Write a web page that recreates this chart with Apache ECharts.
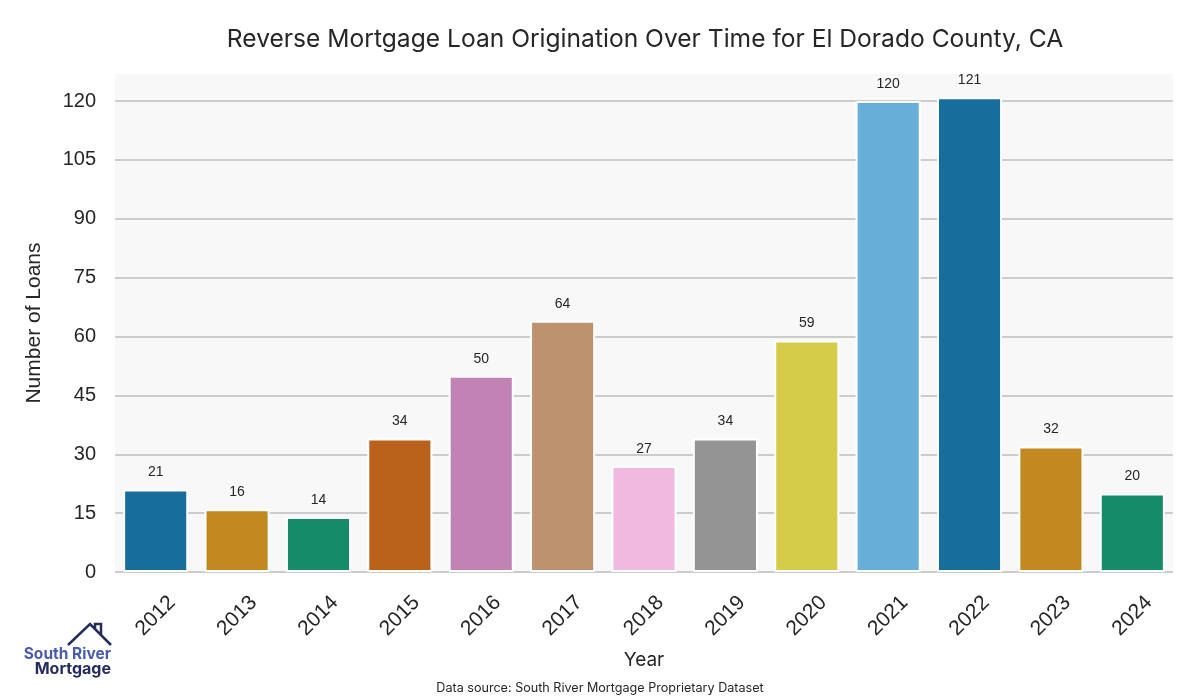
<!DOCTYPE html>
<html>
<head>
<meta charset="utf-8">
<script src="https://cdn.jsdelivr.net/npm/echarts@6/dist/echarts.min.js"></script>
<style>
  html, body { margin: 0; padding: 0; background: #ffffff; }
  #chart { width: 1200px; height: 700px; }
</style>
</head>
<body>
<div id="chart"></div>
<script>
// ---- data ----
const years = ['2012','2013','2014','2015','2016','2017','2018','2019','2020','2021','2022','2023','2024'];
const loans = [21, 16, 14, 34, 50, 64, 27, 34, 59, 120, 121, 32, 20];
const yTicks = [0, 15, 30, 45, 60, 75, 90, 105, 120];

// ---- style ----
const barColors = ['#176D9C','#C38820','#168B6A','#BA611B','#C183B6','#BD926E','#F1B9E0','#949494','#D5CD4A','#68AFD7','#176D9C','#C38820','#168B6A'];
const titleFont = 'Inter, Lato, sans-serif';
const tickFont = '"Liberation Sans", Arial, sans-serif';

const chart = echarts.init(document.getElementById('chart'));
chart.setOption({
  animation: false,
  backgroundColor: '#ffffff',
  grid: {
    left: 115, right: 27, top: 74, bottom: 128,
    show: true, backgroundColor: '#f8f8f8', borderWidth: 0,
    containLabel: false
  },
  xAxis: {
    type: 'category',
    data: years,
    axisLine: { show: false },
    axisTick: { show: false },
    axisLabel: {
      rotate: 45, align: 'center', verticalAlign: 'middle', margin: 44,
      fontSize: 21, color: '#262626', fontFamily: tickFont
    },
    name: 'Year',
    nameLocation: 'middle',
    nameGap: 79,
    nameTextStyle: { fontSize: 19, color: '#262626', fontFamily: titleFont, verticalAlign: 'top' }
  },
  yAxis: {
    type: 'value',
    min: 0, max: 126.9, interval: 15,
    axisLine: { show: false },
    axisTick: { show: false },
    axisLabel: {
      showMaxLabel: false, margin: 19,
      fontSize: 20, color: '#262626', fontFamily: tickFont,
      formatter: v => (yTicks.indexOf(v) >= 0 ? String(v) : '')
    },
    splitLine: { show: true, showMaxLine: false, lineStyle: { color: '#cccccc', width: 2 } },
    name: 'Number of Loans',
    nameLocation: 'middle',
    nameGap: 70,
    nameTextStyle: { fontSize: 21, color: '#262626', fontFamily: tickFont }
  },
  series: [{
    type: 'bar',
    data: loans.map((v, i) => ({ value: v, itemStyle: { color: barColors[i] } })),
    barCategoryGap: '20%',
    itemStyle: { borderColor: '#ffffff', borderWidth: 2 },
    label: {
      show: true, position: 'top', distance: 10,
      fontSize: 14, color: '#262626', fontFamily: tickFont
    }
  }],
  graphic: [
    { type: 'text', x: 645, y: 40, style: {
        text: 'Reverse Mortgage Loan Origination Over Time for El Dorado County, CA',
        fill: '#262626', fontSize: 24.6, fontFamily: titleFont,
        textAlign: 'center', textVerticalAlign: 'middle' } },
    { type: 'text', x: 600, y: 688, style: {
        text: 'Data source: South River Mortgage Proprietary Dataset',
        fill: '#262626', fontSize: 12.6, fontFamily: titleFont,
        textAlign: 'center', textVerticalAlign: 'middle' } },
    { type: 'polyline', shape: { points: [[68, 645], [90, 624], [111, 645]] },
      style: { stroke: '#262c5e', lineWidth: 2.5, fill: null } },
    { type: 'polyline', shape: { points: [[95, 629], [95, 624], [101, 624], [101, 635]] },
      style: { stroke: '#262c5e', lineWidth: 2.5, fill: null } },
    { type: 'text', x: 111, y: 654, style: {
        text: 'South River', fill: '#4a5bab', fontSize: 15.5, fontWeight: 'bold',
        fontFamily: 'Inter, sans-serif', textAlign: 'right', textVerticalAlign: 'middle' } },
    { type: 'text', x: 111, y: 669, style: {
        text: 'Mortgage', fill: '#262c5e', fontSize: 16, fontWeight: 'bold',
        fontFamily: 'Inter, sans-serif', textAlign: 'right', textVerticalAlign: 'middle' } }
  ]
});
</script>
</body>
</html>
